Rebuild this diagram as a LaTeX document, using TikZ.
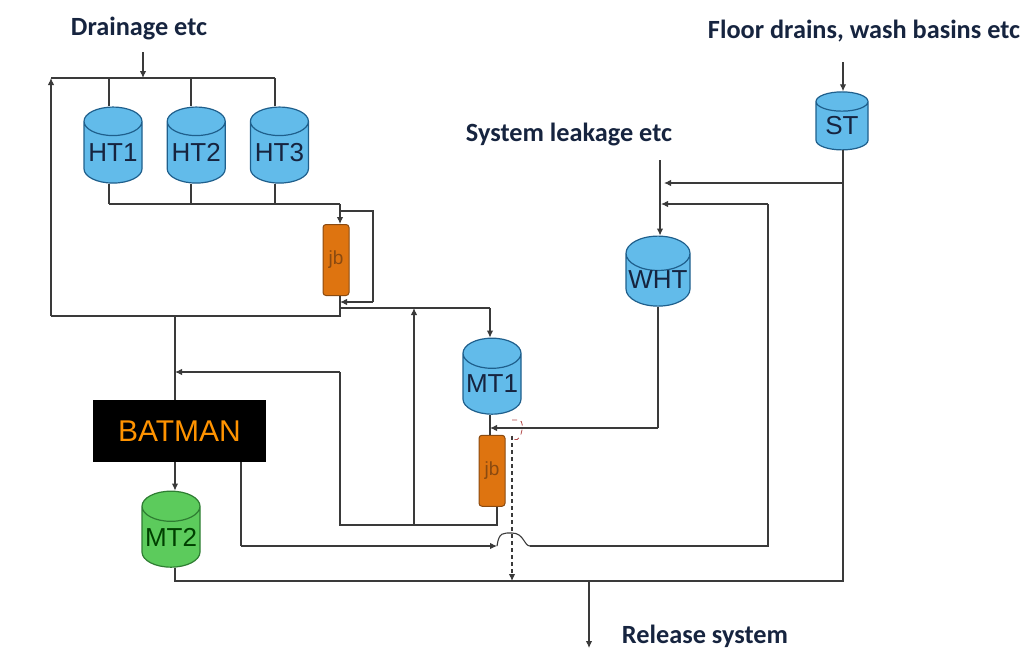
\documentclass[tikz,border=0pt]{standalone}
\usepackage{fontspec}
\setmainfont{Liberation Sans}
\newfontfamily\labelfont{Carlito}
\usetikzlibrary{positioning,arrows.meta,shapes.geometric}
\definecolor{tankblue}{HTML}{62BBEA}
\definecolor{tankedge}{HTML}{1F5F8C}
\definecolor{tankgreen}{HTML}{5CCB5C}
\definecolor{greenedge}{HTML}{2E7D32}
\definecolor{jborange}{HTML}{DE7410}
\definecolor{jbedge}{HTML}{8A4A10}
\definecolor{pipe}{HTML}{3A3A3A}
\definecolor{labeltext}{HTML}{16243F}
\tikzset{
  tank/.style={cylinder, shape border rotate=90, shape aspect=0.58, draw=tankedge, fill=tankblue, line width=1.2pt, font=\fontsize{26}{28}\selectfont, text=labeltext, inner sep=0pt, minimum width=58pt, minimum height=76pt},
  greentank/.style={tank, draw=greenedge, fill=tankgreen, text=black!75!green},
  jb/.style={draw=jbedge, fill=jborange, rounded corners=3pt, line width=1pt, font=\fontsize{19}{21}\selectfont, text=jbedge, inner sep=0pt, minimum width=26pt, minimum height=71pt},
  filter/.style={fill=black, text=orange!85!yellow, font=\fontsize{30}{32}\selectfont, inner sep=0pt, minimum width=173pt, minimum height=62pt},
  lbl/.style={font=\labelfont\bfseries\fontsize{26.3}{28}\selectfont, text=labeltext, inner sep=0pt},
  fl/.style={-{Latex[length=7pt,width=6.5pt]}, pipe, line width=1.1pt},
  pl/.style={pipe, line width=1.1pt},
  dl/.style={pl, dashed, dash pattern=on 4pt off 3pt},
}
\begin{document}
\begin{tikzpicture}[x=1pt,y=-1pt]
\useasboundingbox (0,0) rectangle (1024,653);
\node[lbl] (drain) at (139,29) {Drainage etc};
\node[lbl] (floor) at (864,31) {Floor drains, wash basins etc};
\node[lbl] (leak) at (569,134) {System leakage etc};
\node[lbl] (rel) at (705,636) {Release system};
% holding tanks
\node[tank] (HT1) at (113,152.5) {HT1};
\node[tank, right=24pt of HT1] (HT2) {HT2};
\node[tank, right=24pt of HT2] (HT3) {HT3};
\node[tank, minimum width=52pt, minimum height=58pt] (ST) at (842,126) {ST};
\node[tank, minimum width=64pt, minimum height=70pt] (WHT) at (658,280) {WHT};
\node[tank] (MT1) at (492,384) {MT1};
\node[greentank] (MT2) at (171,537) {MT2};
\node[jb] (jb1) at (336,260) {jb};
\node[jb, below=20pt of MT1] (jb2) {jb};
\node[filter] (bat) at (179.5,431) {BATMAN};
% bus points
\coordinate (in1) at (143,52);
\coordinate (bus1) at (143,78);
\coordinate (d1) at (109,78);
\coordinate (d2) at (191,78);
\coordinate (d3) at (275,78);
\coordinate (ret) at (51,78);
\coordinate (ret2) at (51,316);
\coordinate (j1) at (340,316);
\coordinate (j2) at (340,204);
\coordinate (j3) at (340,211);
\coordinate (j4) at (373,211);
\coordinate (j5) at (373,302);
\coordinate (j6) at (340,302);
\coordinate (t1) at (175,316);
\coordinate (t2) at (175,372);
\coordinate (m1) at (340,308);
\coordinate (m2) at (490,308);
\coordinate (m3) at (414,308);
\coordinate (r1) at (497,525);
\coordinate (r2) at (414,525);
\coordinate (r3) at (340,525);
\coordinate (r4) at (340,372);
\coordinate (b1) at (241,546);
\coordinate (b2) at (497,546);
\coordinate (b3) at (530,546);
\coordinate (b4) at (768,546);
\coordinate (b5) at (768,204);
\coordinate (b6) at (661,204);
\coordinate (s1) at (843,183);
\coordinate (s2) at (664,183);
\coordinate (s3) at (843,62);
\coordinate (s4) at (843,581);
\coordinate (e1) at (175,581);
\coordinate (w1) at (658,428);
\coordinate (w2) at (490,428);
\coordinate (l1) at (660,160);
\coordinate (o1) at (589,581);
\coordinate (o2) at (589,648);
\coordinate (x0) at (512,420);
\coordinate (x1) at (512,436);
\coordinate (x2) at (512,581);
% drainage side
\draw[fl] (in1) -- (bus1);
\draw[pl] (ret) -- (d3);
\foreach \d/\t in {d1/HT1,d2/HT2,d3/HT3} {
  \draw[pl] (\d) -- (\d |- \t.north);
  \draw[pl] (\d |- \t.south) -- (\d |- j2);
}
\draw[pl] (d1 |- j2) -- (j2);
\draw[fl] (j2) -- (j2 |- jb1.north);
\draw[pl] (j3) -- (j4) -- (j5);
\draw[fl] (j5) -- (j6);
\draw[pl] (j1 |- jb1.south) -- (j1) -- (ret2);
\draw[fl] (ret2) -- (ret);
% middle
\draw[pl] (t1) -- (t1 |- bat.north);
\draw[fl] (t1 |- bat.south) -- (t1 |- MT2.north);
\draw[pl] (m1) -- (m2);
\draw[fl] (m2) -- (m2 |- MT1.north);
\draw[fl] (r2) -- (m3);
\draw[pl] (r1 |- jb2.south) -- (r1) -- (r3) -- (r4);
\draw[fl] (r4) -- (t2);
\draw[pl] (m2 |- MT1.south) -- (m2 |- jb2.north);
% return from BATMAN
\draw[pl] (b1 |- bat.south) -- (b1);
\draw[fl] (b1) -- (b2);
\draw[pl] (b2) .. controls (499,532) and (503,533) .. (512,533) .. controls (524,533) and (524,546) .. (b3);
\draw[pl] (b3) -- (b4) -- (b5);
\draw[fl] (b5) -- (b6);
% upper right
\draw[fl] (s3) -- (s3 |- ST.north);
\draw[pl] (s3 |- ST.south) -- (s4) -- (e1) -- (e1 |- MT2.south);
\draw[fl] (s1) -- (s2);
\draw[fl] (l1) -- (l1 |- WHT.north);
\draw[pl] (w1 |- WHT.south) -- (w1);
\draw[fl] (w1) -- (w2);
\draw[fl] (o1) -- (o2);
\draw[dl, -{Latex[length=7pt,width=6.5pt]}] (x1) -- (x2);
\draw[dashed, dash pattern=on 5pt off 4pt, red!40!gray, line width=0.8pt] (x0) -- ++(7,0) .. controls +(8,1) and +(7,14) .. (x1);
\end{tikzpicture}
\end{document}
